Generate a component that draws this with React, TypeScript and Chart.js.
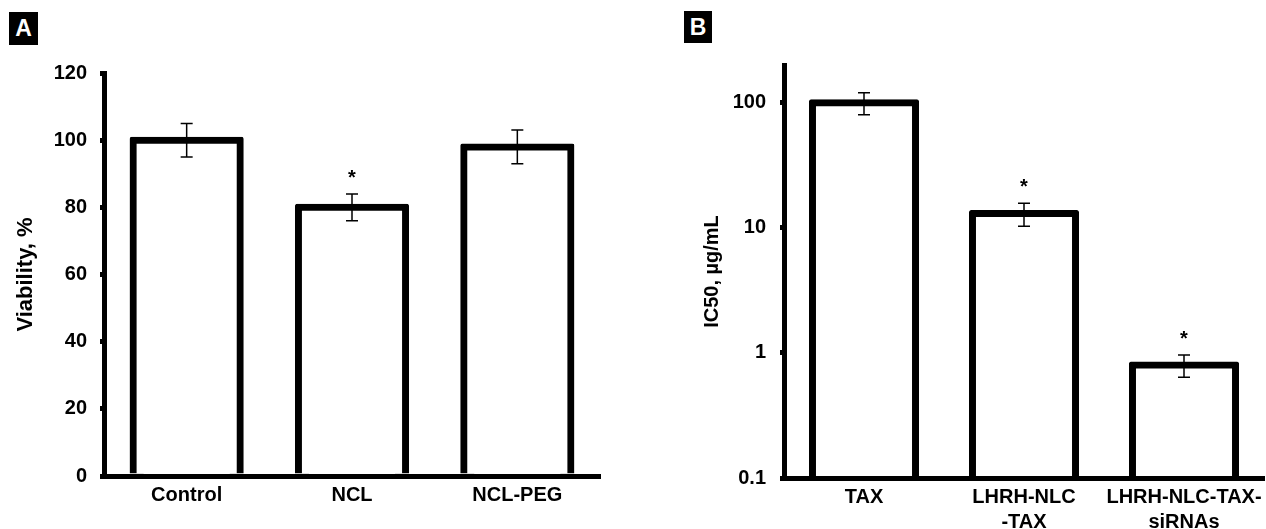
import React, { useEffect, useRef } from 'react';
import { Chart, registerables } from 'chart.js';

Chart.register(...registerables);

const FONT = "'Liberation Sans', Arial, Helvetica, sans-serif";

// Panel A data
const categoriesA: string[] = ['Control', 'NCL', 'NCL-PEG'];
const viabilityA: number[] = [100, 80, 98];
const viabilityErrA: number[] = [5, 4, 5];
const marksA: string[] = ['', '*', ''];
const yTicksA: number[] = [0, 20, 40, 60, 80, 100, 120];

// Panel B data
const categoriesB: (string | string[])[] = ['TAX', ['LHRH-NLC', '-TAX'], ['LHRH-NLC-TAX-', 'siRNAs']];
const ic50B: number[] = [100, 13, 0.8];
const ic50ErrB: number[] = [20, 2.7, 0.16];
const marksB: string[] = ['', '*', '*'];
const yTicksB: number[] = [0.1, 1, 10, 100];

function errorPlugin(values: number[], errors: number[], marks: string[]) {
  return {
    id: 'errBars',
    afterDatasetsDraw(chart: any) {
      const meta = chart.getDatasetMeta(0);
      const ys = chart.scales.y;
      const ctx = chart.ctx;
      ctx.save();
      ctx.strokeStyle = '#000';
      ctx.fillStyle = '#000';
      ctx.lineWidth = 1.5;
      meta.data.forEach((bar: any, i: number) => {
        const x = bar.x;
        const top = ys.getPixelForValue(values[i] + errors[i]);
        const bot = ys.getPixelForValue(values[i] - errors[i]);
        ctx.beginPath();
        ctx.moveTo(x, top);
        ctx.lineTo(x, bot);
        ctx.moveTo(x - 6, top);
        ctx.lineTo(x + 6, top);
        ctx.moveTo(x - 6, bot);
        ctx.lineTo(x + 6, bot);
        ctx.stroke();
        if (marks[i]) {
          ctx.font = `bold 20px ${FONT}`;
          ctx.textAlign = 'center';
          ctx.textBaseline = 'alphabetic';
          ctx.fillText(marks[i], x, top - 10);
        }
      });
      ctx.restore();
    },
  };
}

type P = {
  labels: any[];
  values: number[];
  errors: number[];
  marks: string[];
  yTicks: number[];
  yType: 'linear' | 'logarithmic';
  min: number;
  max: number;
  title: string;
  titleSize: number;
  titlePad: number;
  yWidth: number;
  xHeight: number;
  tickPad: number;
  barPct: number;
  padding: { left: number; top: number; right: number; bottom: number };
};

function makeConfig(p: P): any {
  return {
    type: 'bar',
    data: {
      labels: p.labels,
      datasets: [
        {
          data: p.values,
          backgroundColor: '#fff',
          borderColor: '#000',
          borderWidth: 7,
          inflateAmount: 3.5,
          borderSkipped: 'start',
          borderRadius: 2,
          barPercentage: p.barPct,
          categoryPercentage: 1,
        },
      ],
    },
    options: {
      responsive: false,
      animation: false,
      devicePixelRatio: 1,
      layout: { padding: p.padding },
      plugins: {
        legend: { display: false },
        tooltip: { enabled: false },
        title: { display: false },
      },
      scales: {
        x: {
          grid: { display: false, drawTicks: false },
          border: { display: true, color: '#000', width: 5, z: 1 },
          ticks: {
            color: '#000',
            font: { family: FONT, size: 20, weight: 'bold', lineHeight: 1.25 },
            padding: 7,
            maxRotation: 0,
            autoSkip: false,
          },
          afterFit: (s: any) => {
            s.height = p.xHeight;
            s.paddingLeft = 0;
            s.paddingRight = 0;
          },
        },
        y: {
          type: p.yType,
          min: p.min,
          max: p.max,
          grid: {
            display: true,
            drawOnChartArea: false,
            drawTicks: true,
            tickLength: 4,
            tickWidth: 5,
            tickColor: '#000',
            color: '#000',
            lineWidth: 5,
          },
          border: { display: true, color: '#000', width: 5, z: 1 },
          ticks: {
            color: '#000',
            font: { family: FONT, size: 20, weight: 'bold' },
            padding: p.tickPad,
            callback: (v: any) => String(v),
          },
          title: {
            display: true,
            text: p.title,
            color: '#000',
            font: { family: FONT, size: p.titleSize, weight: 'bold', lineHeight: 1.2 },
            padding: { top: p.titlePad, bottom: 0 },
          },
          afterBuildTicks: (s: any) => {
            s.ticks = p.yTicks.map((v) => ({ value: v }));
          },
          afterFit: (s: any) => {
            s.width = p.yWidth;
          },
        },
      },
    },
    plugins: [errorPlugin(p.values, p.errors, p.marks)],
  };
}

function BarPanel({ cfg, left, width }: { cfg: P; left: number; width: number }) {
  const ref = useRef<HTMLCanvasElement | null>(null);
  useEffect(() => {
    if (!ref.current) return;
    const chart = new Chart(ref.current, makeConfig(cfg));
    return () => chart.destroy();
  }, []);
  return (
    <canvas
      ref={ref}
      width={width}
      height={529}
      style={{ position: 'absolute', left, top: 0, width, height: 529 }}
    />
  );
}

const labelBox = (text: string, left: number, top: number, w: number, h: number) => (
  <div
    style={{
      position: 'absolute',
      left,
      top,
      width: w,
      height: h,
      background: '#000',
      color: '#fff',
      fontFamily: FONT,
      fontWeight: 'bold',
      fontSize: 23,
      display: 'flex',
      alignItems: 'center',
      justifyContent: 'center',
      lineHeight: 1,
    }}
  >
    {text}
  </div>
);

export default function App() {
  const cfgA: P = {
    labels: categoriesA,
    values: viabilityA,
    errors: viabilityErrA,
    marks: marksA,
    yTicks: yTicksA,
    yType: 'linear',
    min: 0,
    max: 120,
    title: 'Viability, %',
    titleSize: 22,
    titlePad: 13,
    yWidth: 104,
    xHeight: 53,
    tickPad: 13,
    barPct: 0.648,
    padding: { left: 0, top: 73, right: 20, bottom: 0 },
  };
  const cfgB: P = {
    labels: categoriesB,
    values: ic50B,
    errors: ic50ErrB,
    marks: marksB,
    yTicks: yTicksB,
    yType: 'logarithmic',
    min: 0.1,
    max: 200,
    title: 'IC50, µg/mL',
    titleSize: 20,
    titlePad: 60,
    yWidth: 144,
    xHeight: 51,
    tickPad: 14,
    barPct: 0.644,
    padding: { left: 0, top: 65, right: 2, bottom: 0 },
  };
  return (
    <div
      style={{
        position: 'fixed',
        left: 0,
        top: 0,
        width: 1266,
        height: 529,
        background: '#fff',
        overflow: 'hidden',
      }}
    >
      <BarPanel cfg={cfgA} left={0} width={620} />
      <BarPanel cfg={cfgB} left={640} width={626} />
      {labelBox('A', 9, 12, 29, 33)}
      {labelBox('B', 684, 11, 28, 32)}
    </div>
  );
}
